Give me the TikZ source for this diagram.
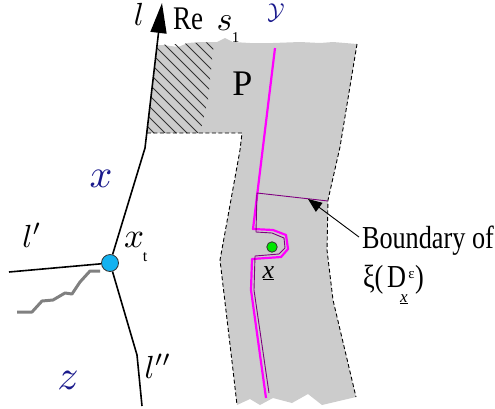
\documentclass[tikz,border=0pt]{standalone}
\usepackage{fontspec}
\setmainfont{Liberation Serif}
\usepackage{graphicx}
\usetikzlibrary{arrows.meta}
\definecolor{dblue}{RGB}{26,26,140}
\definecolor{pgray}{RGB}{204,204,204}
\definecolor{cyanc}{RGB}{20,178,240}
\definecolor{greenc}{RGB}{0,230,0}
\definecolor{wgray}{RGB}{128,128,128}
\definecolor{purp}{RGB}{128,0,128}
\definecolor{magc}{RGB}{255,0,255}
\newcommand\fs[1]{\fontsize{#1}{#1}\selectfont}
\newcommand\cond[1]{\scalebox{0.82}[1]{#1}}
\newcommand\mth[2]{\scalebox{#1}{$#2$}}
\begin{document}
\begin{tikzpicture}[x=1pt,y=-1pt,
  lbl/.style={inner sep=0pt, outer sep=0pt, anchor=base},
  lblw/.style={inner sep=0pt, outer sep=0pt, anchor=base west},
  blk/.style={line width=1.6pt, black, line join=round},
  dashedge/.style={line width=0.9pt, black, dash pattern=on 4pt off 2.5pt},
  hatchline/.style={line width=0.9pt, black!80},
  dot/.style={circle, inner sep=0pt, draw=black!80, line width=0.8pt}]
\useasboundingbox (0,0) rectangle (495,408);
% gray region P
\fill[pgray] (157.2,45) -- (163,45) -- (178,47) -- (188,43) -- (200,42) -- (217,42) -- (225,38) -- (233,42) -- (250,43) -- (273,43) -- (300,42) -- (320,43) -- (333,42) -- (357,44)
  -- (340,147) -- (328,200) -- (327,250) -- (333,300) -- (356,397)
  -- (322,405) -- (308,394) -- (292,403) -- (273,398) -- (260,405) -- (250,399) -- (237,405)
  -- (233,370) -- (220,260) -- (240,150) -- (242,133) -- (146.8,133) -- cycle;
% hatching
\begin{scope}
\clip (157.2,45) -- (214,42) -- (208,100) -- (200,133) -- (146.8,133) -- cycle;
\foreach \c in {30,41,...,210} \draw[hatchline] (\c,20) -- ++(130,130);
\end{scope}
% dashed edges
\draw[dashedge] (357,44) -- (340,147) -- (328,200) -- (327,250) -- (333,300) -- (356,397);
\draw[dashedge] (146.8,133) -- (242,133) -- (240,150) -- (220,260) -- (233,370) -- (237,405);
% magenta and purple curves
\draw[magc, line width=2.2pt, line join=round] (275,48) -- (253,229) -- (273,230) -- (286,235) -- (288,249) -- (281,257) -- (252,259) -- (251,290) -- (266,398);
\draw[purp, line width=0.9pt, line join=round] (328,201) -- (257,193) -- (256,232) -- (272,233) -- (284,238) -- (285,248) -- (279,254) -- (255,256) -- (254,290) -- (269,393);
% wiggle
\draw[wgray, line width=3pt, line join=round] (17,312) -- (32,312) -- (42,301) -- (53,300) -- (65,293) -- (72,294) -- (80,282) -- (90,271) -- (100,271);
% lines
\node[dot, fill=cyanc, minimum size=17pt] (xt) at (110,263) {};
\coordinate (lb) at (145,148);
\coordinate (ltip) at (162,3);
\coordinate (lpend) at (9,272);
\coordinate (lpp1) at (137,355);
\coordinate (lpp2) at (142,406);
\draw[blk, -{Triangle[length=30pt,width=16pt]}] (xt) -- (lb) -- (ltip);
\draw[blk] (xt) -- (lpend);
\draw[blk] (xt) -- (lpp1) -- (lpp2);
\node[dot, fill=greenc, minimum size=10.5pt] (xd) at (272,247) {};
% arrow to boundary
\coordinate (bstart) at (359,237);
\coordinate (btip) at (308,199);
\draw[line width=0.9pt, -{Triangle[length=14pt,width=11pt]}] (bstart) -- (btip);
% labels
\node[lbl] (lab-l) at (139,25) {\mth{3.2}{l}};
\node[lblw] (lab-re) at (173,29) {\fs{33}\cond{Re}};
\node[lbl] (lab-s) at (224.5,30) {\mth{3.4}{s}};
\node[lbl] (lab-1) at (235.5,42) {\fs{15}1};
\node[lbl, text=dblue] (lab-Y) at (276,19) {\mth{2.3}{\mathcal{Y}}};
\node[lbl] (lab-P) at (242.5,95) {\fs{36}P};
\node[lbl, text=dblue] (lab-x) at (101,187) {\mth{4.0}{x}};
\node[lbl] (lab-lp) at (32,247) {\mth{3.2}{l'}};
\node[lbl] (lab-xt) at (134,247) {\mth{3.5}{x}};
\node[lbl] (lab-t) at (145,261) {\fs{16}t};
\node[lbl, text=dblue] (lab-z) at (68,389) {\mth{4.2}{z}};
\node[lbl] (lab-lpp) at (158,378) {\mth{3.2}{l''}};
\node[lbl] (lab-xu) at (268.5,278) {\fs{26}\underline{\textit{x}}};
\node[lblw] (lab-b1) at (362,248) {\fs{32}\cond{Boundary of}};
\node[lblw] (lab-b2) at (363,287) {\fs{32}\cond{ξ(}};
\node[lblw] (lab-bD) at (387,287) {\fs{32}\cond{D}};
\node[lbl] (lab-bx) at (404,302) {\fs{17}\underline{\textit{x}}};
\node[lbl] (lab-be) at (411.5,278) {\fs{15}ε};
\node[lblw] (lab-bp) at (415,287) {\fs{32}\cond{)}};
\end{tikzpicture}
\end{document}
